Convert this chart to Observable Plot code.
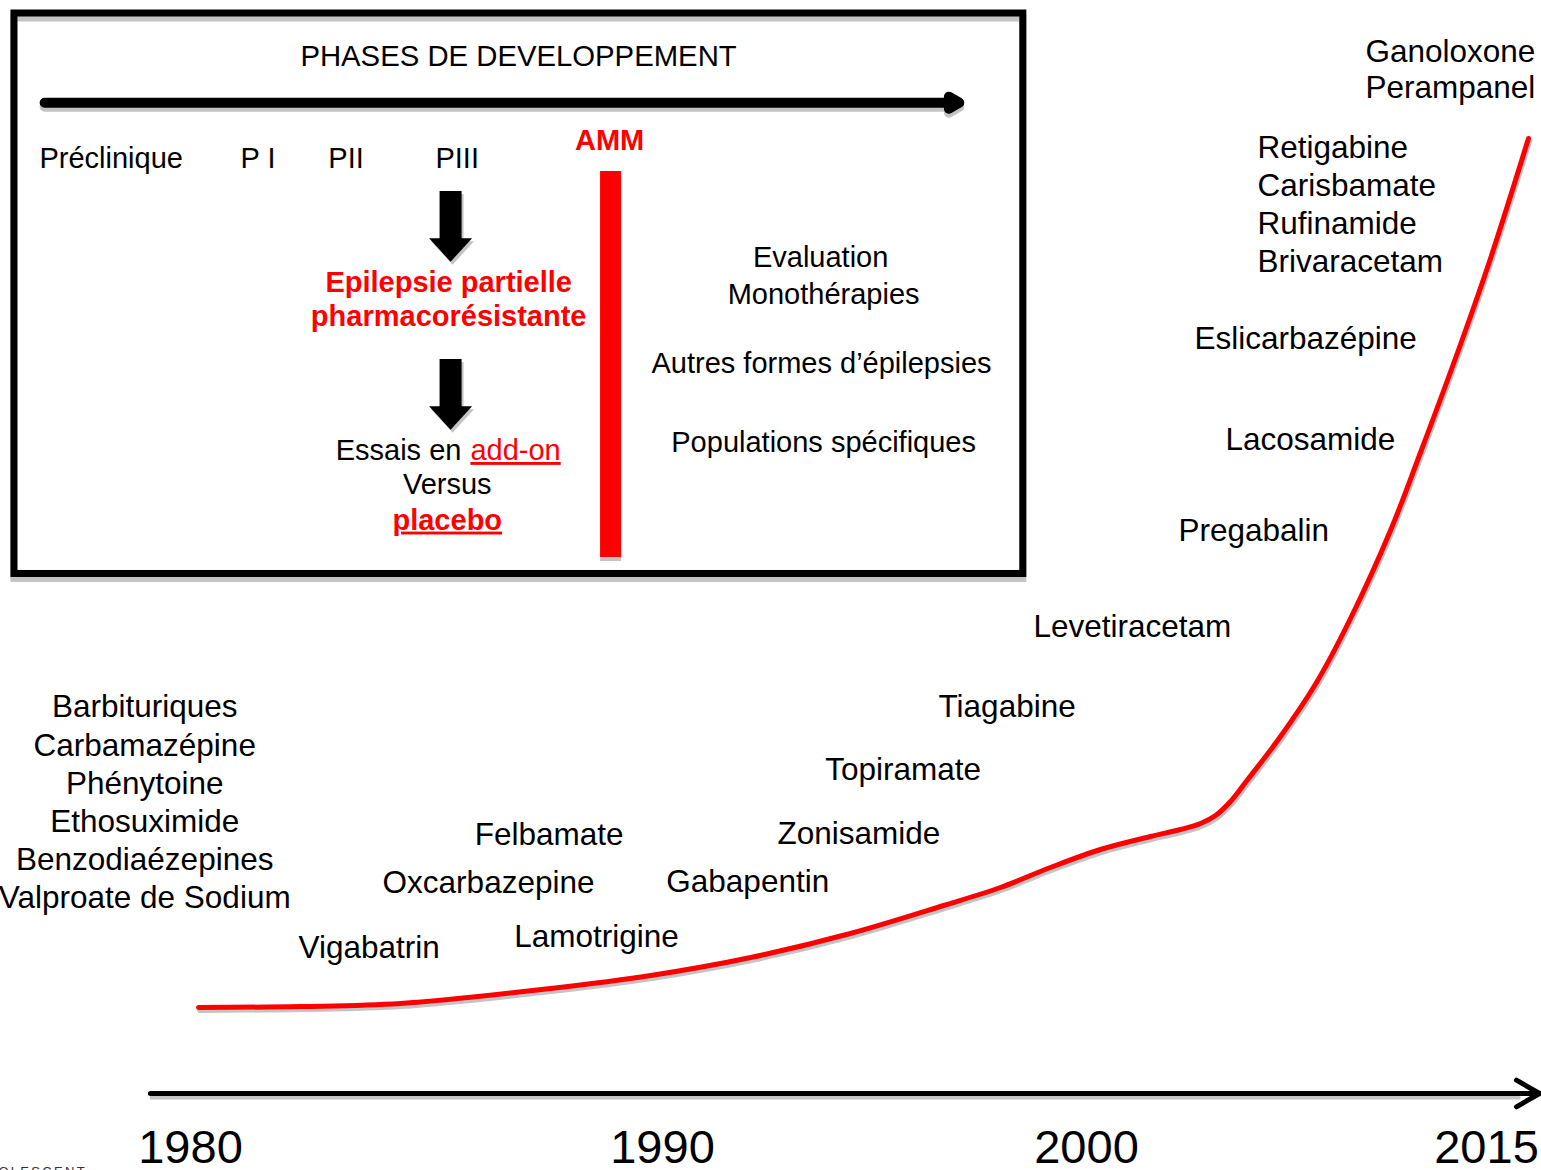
<!DOCTYPE html>
<html>
<head>
<meta charset="utf-8">
<script src="https://cdn.jsdelivr.net/npm/d3@7"></script>
<script src="https://cdn.jsdelivr.net/npm/@observablehq/plot@0.6"></script>
<style>
  html, body { margin: 0; padding: 0; background: #fff; overflow: hidden; }
  #chart svg { display: block; }
</style>
</head>
<body>
<div id="chart"></div>
<script>
// ---------- Data ----------
// Time axis ticks (years)
const tickYears = [1980, 1990, 2000, 2015];

// Growth curve of available antiepileptic drugs (year, relative level)
const curveYears  = [1980.17, 1982.33, 1984.45, 1987.63, 1989.75, 1992.08, 1994.43, 1996.63, 1997.97, 1999.15, 2000.525, 2002.40, 2003.525, 2004.275, 2004.84, 2005.40, 2005.96, 2007.275, 2008.625, 2009.90, 2011.40, 2012.525, 2014.025, 2015.15, 2016.575];
const curveLevels = [0, 0.125, 0.5, 2.375, 4.0, 6.25, 9.25, 12.75, 15.0, 17.5, 19.75, 21.375, 22.25, 23.0, 24.0, 25.75, 28.125, 33.875, 40.625, 48.625, 59.625, 69.375, 82.875, 93.625, 108.625];

// Classic drugs (before 1980)
const classicDrugs  = ["Barbituriques", "Carbamazépine", "Phénytoine", "Ethosuximide", "Benzodiaézepines", "Valproate de Sodium"];
const classicYear   = 1979.03;
const classicLevels = [37.6, 32.75, 28.0, 23.25, 18.5, 13.75];

// Newer drugs
const newDrugs  = ["Vigabatrin", "Lamotrigine", "Oxcarbazepine", "Felbamate", "Gabapentin", "Zonisamide", "Topiramate", "Tiagabine", "Levetiracetam", "Pregabalin", "Lacosamide", "Eslicarbazépine", "Brivaracetam", "Rufinamide", "Carisbamate", "Retigabine", "Perampanel", "Ganoloxone"];
const newYears  = [1982.29, 1986.86, 1984.07, 1986.02, 1990.09, 1992.71, 1993.84, 1996.51, 1998.75, 2003.45, 2005.21, 2004.05, 2006.41, 2006.41, 2006.41, 2006.41, 2010.46, 2010.46];
const newLevels = [7.44, 8.875, 15.56, 21.6, 15.75, 21.75, 29.75, 37.6, 47.6, 59.6, 70.9, 83.6, 93.25, 98.0, 102.75, 107.5, 114.9, 119.5];

// Main time axis arrow
const axisStart = 1979.15, axisEnd = 2016.99, axisLevel = -10.75;
const tickLabelLevel = -17.6;

// Inset: development phases
const insetBoxYears  = [1976.27, 1998.51];
const insetBoxLevels = [124.25, 54.19];
const insetTitle = "PHASES DE DEVELOPPEMENT";
const insetTitleYear = 1986.95, insetTitleLevel = 118.8;
const phaseArrowYears = [1976.91, 1997.0], phaseArrowLevel = 113.1;
const phaseNames  = ["Préclinique", "P I", "PII", "PIII"];
const phaseYears  = [1976.80, 1981.06, 1982.92, 1985.19];
const phaseLevel  = 106.1;
const ammLabel = "AMM", ammYear = 1988.88, ammLevel = 108.4;
const ammBarYear = 1988.90, ammBarLevels = [104.5, 56.25];
const downArrowYear = 1985.51;
const downShaftTop = [102.0, 81.0], downShaftBottom = [95.9, 74.9], downHeadLevel = [94.69, 73.69];
const redTexts  = ["Epilepsie partielle", "pharmacorésistante"];
const redYear   = 1985.47;
const redLevels = [90.66, 86.29];
const essaisText = "Essais en", essaisEndYear = 1985.74;
const addonText = "add-on", addonStartYear = 1985.93;
const essaisLevel = 69.6;
const versusText = "Versus", placeboText = "placebo", lowerYear = 1985.44;
const versusLevel = 65.4, placeboLevel = 60.9;
const rightTexts  = ["Evaluation", "Monothérapies", "Autres formes d’épilepsies", "Populations spécifiques"];
const rightYears  = [1993.73, 1993.80, 1993.75, 1993.80];
const rightLevels = [93.7, 89.1, 80.5, 70.6];
const logoText = "OLESCENT", logoYear = 1975.93, logoLevel = -20.6;

// ---------- Build tables ----------
const curve = curveYears.map((x, i) => ({x, y: curveLevels[i]}));
const classic = classicDrugs.map((name, i) => ({name, x: classicYear, y: classicLevels[i]}));
const newer = newDrugs.map((name, i) => ({name, x: newYears[i], y: newLevels[i]}));
const ticks = tickYears.map(x => ({x, y: tickLabelLevel, label: String(x)}));
const phases = phaseNames.map((name, i) => ({name, x: phaseYears[i], y: phaseLevel}));
const downArrows = downShaftTop.map((t, i) => ({x: downArrowYear, y1: t, y2: downShaftBottom[i], yh: downHeadLevel[i]}));
const reds = redTexts.map((t, i) => ({t, x: redYear, y: redLevels[i]}));
const rights = rightTexts.map((t, i) => ({t, x: rightYears[i], y: rightLevels[i]}));
const box = [{x1: insetBoxYears[0], x2: insetBoxYears[1], y1: insetBoxLevels[0], y2: insetBoxLevels[1]}];

const FONT = "Liberation Sans, Arial, Helvetica, sans-serif";
const RED = "#ff0000";
const SHADOW = "#c4c4c4";

// Down-pointing arrow head symbol
const headSymbol = {
  draw(ctx, size) {
    const r = Math.sqrt(size / Math.PI);
    ctx.moveTo(-r, -r * 0.55);
    ctx.lineTo(r, -r * 0.55);
    ctx.lineTo(0, r * 0.55);
    ctx.closePath();
  }
};

const chart = Plot.plot({
  width: 1541,
  height: 1170,
  margin: 0,
  style: {background: "#fff", fontFamily: FONT},
  x: {type: "linear", domain: tickYears, range: [190, 662, 1086, 1486], axis: null},
  y: {type: "linear", domain: [0, 125], range: [1007, 7], axis: null},
  marks: [
    // Inset box shadow + box
    Plot.rect(box, {x1: "x1", x2: "x2", y1: "y1", y2: "y2", fill: "none", stroke: SHADOW, strokeWidth: 7, dy: 5}),
    Plot.rect(box, {x1: "x1", x2: "x2", y1: "y1", y2: "y2", fill: "none", stroke: "#000", strokeWidth: 7}),
    // Inset title
    Plot.text([insetTitle], {x: () => insetTitleYear, y: () => insetTitleLevel, text: d => d, fontSize: 29.3, fontFamily: FONT, fill: "#000"}),
    // Phase arrow (shadow + arrow)
    Plot.arrow([0], {x1: () => phaseArrowYears[0], x2: () => phaseArrowYears[1], y1: () => phaseArrowLevel, y2: () => phaseArrowLevel, stroke: SHADOW, strokeWidth: 10, headLength: 1.8, dy: 4}),
    Plot.arrow([0], {x1: () => phaseArrowYears[0], x2: () => phaseArrowYears[1], y1: () => phaseArrowLevel, y2: () => phaseArrowLevel, stroke: "#000", strokeWidth: 10, headLength: 1.8}),
    // Phase labels
    Plot.text(phases, {x: "x", y: "y", text: "name", textAnchor: "start", fontSize: 29, fontFamily: FONT, fill: "#000"}),
    // AMM label and bar
    Plot.text([ammLabel], {x: () => ammYear, y: () => ammLevel, text: d => d, fontSize: 29, fontWeight: "bold", fontFamily: FONT, fill: RED}),
    Plot.ruleX([0], {x: () => ammBarYear, y1: () => ammBarLevels[0], y2: () => ammBarLevels[1], stroke: SHADOW, strokeWidth: 21, dy: 4}),
    Plot.ruleX([0], {x: () => ammBarYear, y1: () => ammBarLevels[0], y2: () => ammBarLevels[1], stroke: RED, strokeWidth: 21}),
    // Down arrows (shadow + arrow)
    Plot.ruleX(downArrows, {x: "x", y1: "y1", y2: "y2", stroke: SHADOW, strokeWidth: 22, dx: 2, dy: 3}),
    Plot.dot(downArrows, {x: "x", y: "yh", r: 21.5, symbol: headSymbol, fill: SHADOW, stroke: "none", dx: 2, dy: 3}),
    Plot.ruleX(downArrows, {x: "x", y1: "y1", y2: "y2", stroke: "#000", strokeWidth: 22}),
    Plot.dot(downArrows, {x: "x", y: "yh", r: 21.5, symbol: headSymbol, fill: "#000", stroke: "none"}),
    // Red bold texts
    Plot.text(reds, {x: "x", y: "y", text: "t", fontSize: 29, fontWeight: "bold", fontFamily: FONT, fill: RED}),
    // Essais en add-on / Versus / placebo
    Plot.text([essaisText], {x: () => essaisEndYear, y: () => essaisLevel, text: d => d, textAnchor: "end", fontSize: 29, fontFamily: FONT, fill: "#000"}),
    Plot.text([addonText], {x: () => addonStartYear, y: () => essaisLevel, text: d => d, textAnchor: "start", fontSize: 29, fontFamily: FONT, fill: RED}),
    Plot.text([versusText], {x: () => lowerYear, y: () => versusLevel, text: d => d, fontSize: 29, fontFamily: FONT, fill: "#000"}),
    Plot.text([placeboText], {x: () => lowerYear, y: () => placeboLevel, text: d => d, fontSize: 29, fontWeight: "bold", fontFamily: FONT, fill: RED}),
    // Right side inset texts
    Plot.text(rights, {x: "x", y: "y", text: "t", fontSize: 29, fontFamily: FONT, fill: "#000"}),

    // Growth curve (shadow + curve)
    Plot.line(curve, {x: "x", y: "y", curve: "catmull-rom", stroke: SHADOW, strokeWidth: 5, dx: 1, dy: 3}),
    Plot.line(curve, {x: "x", y: "y", curve: "catmull-rom", stroke: RED, strokeWidth: 5}),

    // Drug labels
    Plot.text(classic, {x: "x", y: "y", text: "name", textAnchor: "middle", fontSize: 31.5, fontFamily: FONT, fill: "#000"}),
    Plot.text(newer, {x: "x", y: "y", text: "name", textAnchor: "start", fontSize: 31.5, fontFamily: FONT, fill: "#000"}),

    // Time axis (shadow + arrow)
    Plot.ruleY([0], {y: () => axisLevel, x1: () => axisStart, x2: () => axisEnd - 0.7, stroke: SHADOW, strokeWidth: 4, dy: 4}),
    Plot.arrow([0], {x1: () => axisStart, x2: () => axisEnd, y1: () => axisLevel, y2: () => axisLevel, stroke: "#000", strokeWidth: 5, headLength: 8}),
    Plot.text(ticks, {x: "x", y: "y", text: "label", fontSize: 47, fontFamily: FONT, fill: "#000"}),

    // Partially visible logo text
    Plot.text([logoText], {x: () => logoYear, y: () => logoLevel, text: d => d, textAnchor: "start", fontSize: 13, fontFamily: FONT, fill: "#333"})
  ]
});

// Underlines and letter spacing
d3.select(chart).selectAll("text")
  .filter(function () { return this.textContent === addonText || this.textContent === placeboText; })
  .style("text-decoration", "underline");
d3.select(chart).selectAll("text")
  .filter(function () { return this.textContent === logoText; })
  .style("letter-spacing", "2.3px");

document.getElementById("chart").appendChild(chart);
</script>
</body>
</html>
